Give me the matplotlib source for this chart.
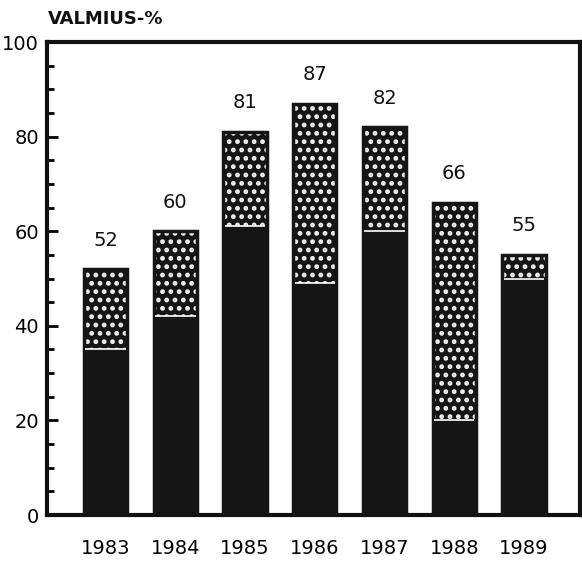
import matplotlib
matplotlib.use("Agg")
import matplotlib.pyplot as plt
from matplotlib.ticker import MultipleLocator
import numpy as np

years = ["1983", "1984", "1985", "1986", "1987", "1988", "1989"]
totals = [52, 60, 81, 87, 82, 66, 55]
solid_part = [35, 42, 61, 49, 60, 20, 50]
y_ticks = [0, 20, 40, 60, 80, 100]
y_title = "VALMIUS-%"

plt.rcParams['font.family'] = ['DejaVu Sans']
plt.rcParams['hatch.linewidth'] = 2.2

fig = plt.figure(figsize=(5.82, 5.62), dpi=100)
ax = fig.add_axes([0.081, 0.0836, 0.915, 0.8416])

x = np.arange(len(years))
totals_a = np.array(totals, dtype=float)
solid_a = np.array(solid_part, dtype=float)
w = 0.62

ax.bar(x, solid_a, width=w, color='#151515', edgecolor='none', zorder=2)
ax.bar(x, totals_a - solid_a, bottom=solid_a, width=w, color='#151515',
       edgecolor='#f2f2f2', hatch='..', linewidth=0, zorder=2)
ax.bar(x, totals_a, width=w, fill=False, edgecolor='#151515', linewidth=2.5, zorder=3)
ax.hlines(solid_a, x - w / 2 + 0.02, x + w / 2 - 0.02, colors='white', linewidth=1.2, zorder=4)

for xi, t in zip(x, totals):
    ax.annotate(str(t), (xi, t), xytext=(0, 14), textcoords='offset points',
                ha='center', va='bottom', fontsize=14, color='#111111')

ax.set_xlim(-0.84, 6.8)
ax.set_ylim(0, 100)
ax.set_yticks(y_ticks)
ax.set_yticklabels([str(v) for v in y_ticks], fontsize=14)
ax.yaxis.set_minor_locator(MultipleLocator(5))
ax.tick_params(axis='y', which='major', direction='in', length=8, width=2, pad=6)
ax.tick_params(axis='y', which='minor', direction='in', length=5, width=2)
ax.set_xticks(x)
ax.set_xticklabels(years, fontsize=14)
ax.tick_params(axis='x', which='both', length=0, pad=17)

for s in ax.spines.values():
    s.set_linewidth(3)
    s.set_color('#111111')

fig.text(0.083, 0.967, y_title, fontsize=13, fontweight='bold', ha='left', va='center',
         color='#111111', family='DejaVu Sans')

fig.savefig("out.png", dpi=100)
